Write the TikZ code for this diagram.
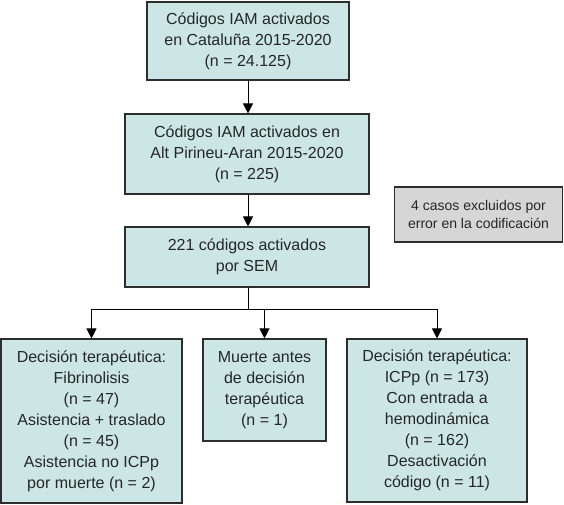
\documentclass[tikz,border=0pt]{standalone}
\usepackage{fontspec}
\setmainfont{Liberation Sans}
\usetikzlibrary{arrows.meta}
\definecolor{boxfill}{RGB}{204,230,230}
\definecolor{greyfill}{RGB}{214,214,214}
\definecolor{edge}{RGB}{45,45,45}
\begin{document}
\begin{tikzpicture}[x=1pt,y=-1pt,
  box/.style={draw=edge, line width=1.1pt, fill=boxfill, align=center, inner sep=0pt,
    font=\fontsize{16}{21}\selectfont, text=black!85},
  greybox/.style={draw=edge, line width=1.1pt, fill=greyfill, align=center, inner sep=0pt,
    font=\fontsize{14}{18}\selectfont, text=black!85},
  conn/.style={draw=black, line width=1pt},
  arr/.style={conn, -{Triangle[width=10pt,length=10pt]}}]
\useasboundingbox (0,0) rectangle (564,505);
\node[box, minimum width=202pt, minimum height=78pt] (b1) at (248,41)
  {Códigos IAM activados\\en Cataluña 2015-2020\\(n = 24.125)};
\node[box, minimum width=244pt, minimum height=80pt] (b2) at (247,154)
  {Códigos IAM activados en\\Alt Pirineu-Aran 2015-2020\\(n = 225)};
\node[box, minimum width=244pt, minimum height=60pt] (b3) at (247,257)
  {221 códigos activados\\por SEM};
\node[greybox, minimum width=168pt, minimum height=55pt] (ex) at (478.5,214.5)
  {4 casos excluidos por\\error en la codificación};
\node[box, minimum width=181pt, minimum height=164pt] (L) at (91.5,421)
  {Decisión terapéutica:\\Fibrinolisis\\(n = 47)\\Asistencia + traslado\\(n = 45)\\Asistencia no ICPp\\por muerte (n = 2)};
\node[box, minimum width=123pt, minimum height=102pt] (M) at (264.5,390)
  {Muerte antes\\de decisión\\terapéutica\\(n = 1)};
\node[box, minimum width=180pt, minimum height=163pt] (R) at (437,420.5)
  {Decisión terapéutica:\\ICPp (n = 173)\\Con entrada a\\hemodinámica\\(n = 162)\\Desactivación\\código (n = 11)};
\coordinate (j) at (248,309);
\draw[arr] (b1.south -| j) -- (b2.north -| j);
\draw[arr] (b2.south -| j) -- (b3.north -| j);
\draw[conn] (b3.south -| j) -- (j);
\draw[conn] (L.north |- j) -- (R.north |- j);
\draw[arr] (L.north |- j) -- (L.north);
\draw[arr] (M.north |- j) -- (M.north);
\draw[arr] (R.north |- j) -- (R.north);
\end{tikzpicture}
\end{document}
